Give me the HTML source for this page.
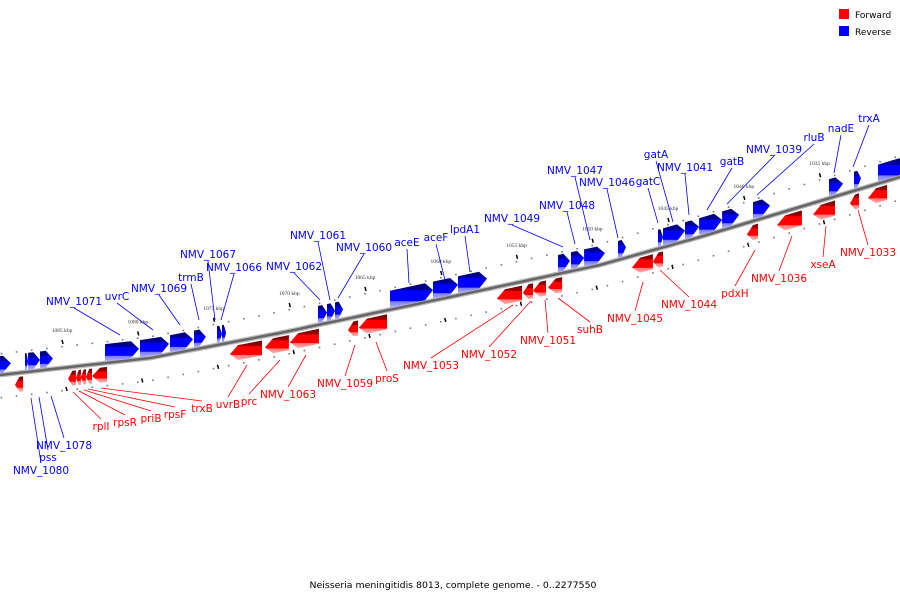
<!DOCTYPE html>
<html><head><meta charset="utf-8"><style>
html,body{margin:0;padding:0;background:#fff;}
svg{display:block;font-family:"DejaVu Sans","Liberation Sans",sans-serif;}
</style></head><body>
<svg id="chart" width="900" height="600" viewBox="0 0 900 600" xmlns="http://www.w3.org/2000/svg">
<defs>
<linearGradient id="gBlue" x1="0" y1="0" x2="0" y2="1">
<stop offset="0" stop-color="#000070"/><stop offset="0.28" stop-color="#0000a0"/><stop offset="0.3" stop-color="#0000ff"/><stop offset="0.72" stop-color="#0000ff"/><stop offset="0.75" stop-color="#7a7aff"/><stop offset="1" stop-color="#b0b0ff"/>
</linearGradient>
<linearGradient id="gRed" x1="0" y1="0" x2="0" y2="1">
<stop offset="0" stop-color="#700000"/><stop offset="0.28" stop-color="#a00000"/><stop offset="0.3" stop-color="#ff0000"/><stop offset="0.72" stop-color="#ff0000"/><stop offset="0.75" stop-color="#ff7a7a"/><stop offset="1" stop-color="#ffb0b0"/>
</linearGradient>
</defs>
<g id="legend">
<rect x="839" y="9" width="10" height="10" fill="#ff0000"/>
<text x="855" y="18" font-size="9">Forward</text>
<rect x="839" y="26" width="10" height="10" fill="#0000ff"/>
<text x="855" y="35" font-size="9">Reverse</text>
</g>
<text x="453" y="588" font-size="9" text-anchor="middle" textLength="287" lengthAdjust="spacingAndGlyphs">Neisseria meningitidis 8013, complete genome. - 0..2277550</text>
<g id="ticks"></g>
<g id="axis"></g>
<g id="genes"></g>
<g id="labels"></g>
</svg>
<script>
// ---- data ----
const tickKbp = [1085, 1080, 1075, 1070, 1065, 1060, 1055, 1050, 1045, 1040, 1035];
const tickLabels = ["1085 kbp","1080 kbp","1075 kbp","1070 kbp","1065 kbp","1060 kbp","1055 kbp","1050 kbp","1045 kbp","1040 kbp","1035 kbp"];
const reverseNames = ["", "NMV_1080", "pss", "NMV_1078", "NMV_1071", "uvrC", "NMV_1069", "trmB", "NMV_1067", "NMV_1066", "NMV_1062", "NMV_1061", "NMV_1060", "aceE", "aceF", "lpdA1", "NMV_1049", "NMV_1048", "NMV_1047", "NMV_1046", "gatC", "gatA", "NMV_1041", "gatB", "NMV_1039", "rluB", "nadE", "trxA", ""];
const reverseStart = [1089.9, 1087.44, 1087.24, 1086.45, 1082.16, 1079.85, 1077.87, 1076.29, 1074.77, 1074.44, 1068.10, 1067.51, 1066.98, 1063.35, 1060.51, 1058.86, 1052.26, 1051.40, 1050.54, 1048.30, 1045.66, 1045.33, 1043.88, 1042.95, 1041.43, 1039.39, 1034.37, 1032.72, 1031.14];
const reverseEnd   = [1088.37, 1087.24, 1086.45, 1085.60, 1079.92, 1077.94, 1076.35, 1075.50, 1074.44, 1074.17, 1067.51, 1066.98, 1066.45, 1060.51, 1058.86, 1056.95, 1051.47, 1050.54, 1049.16, 1047.77, 1045.33, 1043.88, 1042.95, 1041.43, 1040.31, 1038.27, 1033.45, 1032.26, 1029.2];
const forwardNames = ["", "rplI", "rpsR", "priB", "rpsF", "trxB", "uvrB", "prc", "NMV_1063", "NMV_1059", "proS", "NMV_1053", "NMV_1052", "NMV_1051", "suhB", "NMV_1045", "NMV_1044", "pdxH", "NMV_1036", "xseA", "NMV_1033", ""];
const forwardStart = [1088.10, 1084.60, 1084.08, 1083.75, 1083.42, 1083.02, 1073.91, 1071.60, 1069.95, 1066.12, 1065.40, 1056.29, 1054.57, 1053.91, 1052.92, 1047.38, 1046.00, 1039.79, 1037.81, 1035.43, 1032.99, 1031.80];
const forwardEnd   = [1087.57, 1084.08, 1083.75, 1083.42, 1083.02, 1082.03, 1071.80, 1070.02, 1068.04, 1065.46, 1063.55, 1054.64, 1053.91, 1053.05, 1051.99, 1046.00, 1045.33, 1039.06, 1036.16, 1033.98, 1032.39, 1030.54];

// ---- layout ----
const axisPts = [[0,375],[150,358],[280,333],[450,297],[600,265],[700,237],[900,177]];
function L(x){
  for(let i=0;i<axisPts.length-1;i++){
    const a=axisPts[i], b=axisPts[i+1];
    if(x<=b[0]||i===axisPts.length-2){const t=(x-a[0])/(b[0]-a[0]);return a[1]+t*(b[1]-a[1]);}
  }
}
function X(k){ return 62 + (1085 - k) * 15.15; }
// label layout (name -> [textX, baselineY, leaderEndX, leaderEndY])
const labelLayout = {
 "NMV_1080":[41,474,31,398],"pss":[48,461,39,397],"NMV_1078":[64,449,51,396],
 "NMV_1071":[74,305,120,335],"uvrC":[117,300,153,330],"NMV_1069":[159,292,180,325],"trmB":[191,281,199,320],
 "NMV_1067":[208,258,215,320],"NMV_1066":[234,271,221,320],"NMV_1062":[294,270,320,300],"NMV_1061":[318,239,330,300],
 "NMV_1060":[364,251,338,298],"aceE":[407,246,409,283],"aceF":[436,241,445,280],"lpdA1":[465,233,470,272],
 "NMV_1049":[512,222,563,247],"NMV_1048":[567,209,575,244],"NMV_1047":[575,174,590,240],"NMV_1046":[607,186,618,238],
 "gatC":[648,185,658,223],"gatA":[656,158,673,222],"NMV_1041":[685,171,689,215],"gatB":[732,165,707,210],
 "NMV_1039":[774,153,727,204],"rluB":[814,141,757,195],"nadE":[841,132,834,173],"trxA":[869,122,853,167],
 "rplI":[101,430,73,392],"rpsR":[125,426,79,391],"priB":[151,422,84,390],"rpsF":[175,418,88,389],"trxB":[202,412,101,388],
 "uvrB":[228,408,247,365],"prc":[249,405,280,360],"NMV_1063":[288,398,306,355],"NMV_1059":[345,387,355,345],
 "proS":[387,382,376,342],"NMV_1053":[431,369,513,305],"NMV_1052":[489,358,531,301],"NMV_1051":[548,344,545,300],
 "suhB":[590,333,558,298],"NMV_1045":[635,322,643,282],"NMV_1044":[689,308,660,270],"pdxH":[735,297,755,250],
 "NMV_1036":[779,282,792,236],"xseA":[823,268,826,226],"NMV_1033":[868,256,858,210]
};
const NS="http://www.w3.org/2000/svg";
function mk(tag,parent){const e=document.createElementNS(NS,tag);parent.appendChild(e);return e;}
const gAxis=document.getElementById('axis'), gTicks=document.getElementById('ticks'), gGenes=document.getElementById('genes'), gLabels=document.getElementById('labels');

// axis line
let pts=[];for(let x=0;x<=900;x+=10)pts.push(x+','+L(x).toFixed(1));
const sh=mk('polyline',gAxis);


sh.setAttribute('points',pts.join(' '));sh.setAttribute('fill','none');sh.setAttribute('stroke','#bbb');sh.setAttribute('stroke-width','5');
const ax=mk('polyline',gAxis);


ax.setAttribute('points',pts.join(' '));ax.setAttribute('fill','none');ax.setAttribute('stroke','#666');ax.setAttribute('stroke-width','2.5');

// dots each kbp
for(let k=1089;k>=1029;k--){
  const x=X(k); if(x<0||x>900) continue;
  const d1=mk('rect',gTicks);
  
  
  d1.setAttribute('x',x-0.8);d1.setAttribute('y',L(x)-22);d1.setAttribute('width',1.6);d1.setAttribute('height',1.6);d1.setAttribute('fill','#777');
  const d2=mk('rect',gTicks);
  
  
  d2.setAttribute('x',x-0.8);d2.setAttribute('y',L(x)+22);d2.setAttribute('width',1.6);d2.setAttribute('height',1.6);d2.setAttribute('fill','#777');
}
// major ticks
tickKbp.forEach((k,i)=>{
  const x=X(k), y=L(x);
  const t=mk('line',gTicks);
  
  
  t.setAttribute('x1',x);t.setAttribute('y1',y-28);t.setAttribute('x2',x+1);t.setAttribute('y2',y-24);t.setAttribute('stroke','#000');t.setAttribute('stroke-width','1.5');
  const t2=mk('line',gTicks);
  
  
  t2.setAttribute('x1',x+4);t2.setAttribute('y1',y+19);t2.setAttribute('x2',x+5);t2.setAttribute('y2',y+23);t2.setAttribute('stroke','#000');t2.setAttribute('stroke-width','1.5');
  const tl=mk('text',gTicks);
  
  
  tl.setAttribute('x',x);tl.setAttribute('y',y-36);tl.setAttribute('font-size','5.5');tl.setAttribute('text-anchor','middle');tl.setAttribute('font-family','"Liberation Serif",serif');tl.setAttribute('fill','#333');
  tl.textContent=tickLabels[i];
});

function gene(k0,k1,rev,name){
  const x0=X(k0), x1=Math.max(X(k1),x0+3);
  const w=x1-x0, h=Math.min(8,w*0.55);
  let p;
  if(rev){
    const H=17, o=2;
    const b0=L(x0)-o, bh=L(x1-h)-o, b1=L(x1)-o;
    p=[[x0,b0-H],[x1-h,bh-H],[x1,b1-H/2],[x1-h,bh],[x0,b0]];
  } else {
    const H=15, o=4;
    const t0=L(x0)+o, th=L(x0+h)+o, t1=L(x1)+o;
    p=[[x1,t1],[x0+h,th],[x0,t0+H/2],[x0+h,th+H],[x1,t1+H]];
  }
  const pg=mk('polygon',gGenes);
  
  
  pg.setAttribute('points',p.map(q=>q[0].toFixed(1)+','+q[1].toFixed(1)).join(' '));
  pg.setAttribute('fill',rev?'url(#gBlue)':'url(#gRed)');
  if(name&&labelLayout[name]){
    const lay=labelLayout[name], col=rev?'#0000ff':'#ff0000';
    const ln=mk('line',gLabels);
    
    
    const ly = lay[1] < lay[3] ? lay[1]+3 : lay[1]-11;
    ln.setAttribute('x1',lay[0]);ln.setAttribute('y1',ly);ln.setAttribute('x2',lay[2]);ln.setAttribute('y2',lay[3]);
    ln.setAttribute('stroke',col);ln.setAttribute('stroke-width','0.8');
    const tx=mk('text',gLabels);
    
    
    tx.setAttribute('x',lay[0]);tx.setAttribute('y',lay[1]);tx.setAttribute('text-anchor','middle');tx.setAttribute('font-size','10.5');tx.setAttribute('fill',col);
    tx.textContent=name;
  }
}
reverseNames.forEach((n,i)=>gene(reverseStart[i],reverseEnd[i],true,n));
forwardNames.forEach((n,i)=>gene(forwardStart[i],forwardEnd[i],false,n));
</script>
</body></html>
